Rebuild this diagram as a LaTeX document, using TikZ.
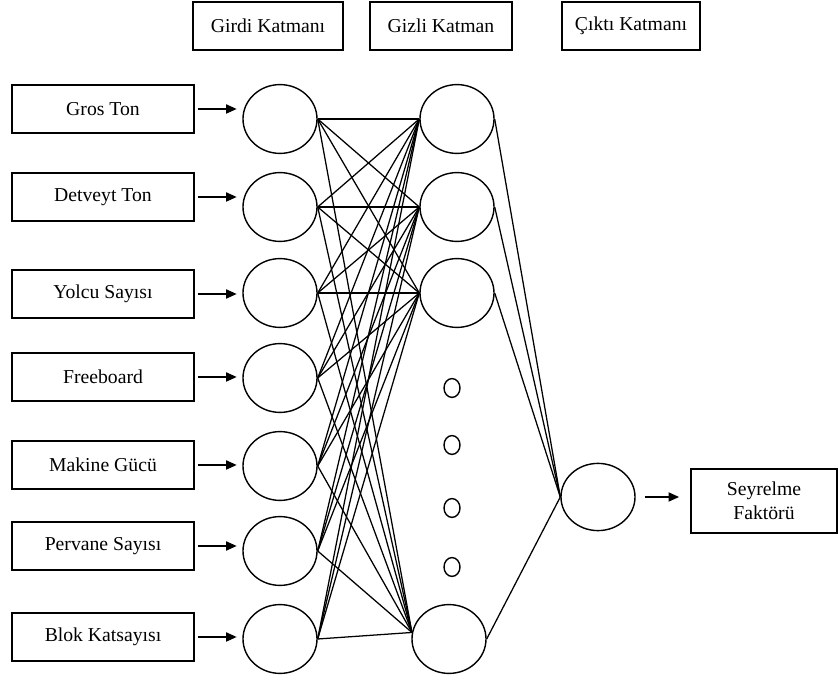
\documentclass[tikz,border=0pt]{standalone}
\usepackage{fontspec}
\setmainfont{Liberation Serif}
\usetikzlibrary{arrows.meta, positioning, shapes.geometric}

\begin{document}
\begin{tikzpicture}[x=0.025cm, y=-0.025cm,
  box/.style={draw, line width=1.3pt, minimum height=1.22cm, inner sep=0pt, align=center, font=\fontsize{14}{17}\selectfont},
  neuron/.style={draw, ellipse, line width=1pt, minimum width=1.85cm, minimum height=1.72cm, inner sep=0pt},
  dotn/.style={draw, ellipse, line width=1pt, minimum width=0.4cm, minimum height=0.47cm, inner sep=0pt},
  link/.style={line width=0.9pt},
  feed/.style={-{Triangle[length=7.5pt, width=6.5pt]}, line width=1pt, shorten <=2pt, shorten >=4pt}]
  \useasboundingbox (0,0) rectangle (838,681);

  % Layer titles
  \node[box, minimum width=3.75cm, minimum height=1.2cm] (tin) at (268,26) {Girdi Katmanı};
  \node[box, minimum width=3.55cm, minimum height=1.2cm] (thid) at (441,26) {Gizli Katman};
  \node[box, minimum width=3.43cm, minimum height=1.2cm] (tout) at (631,26) {Çıktı Katmanı};

  % Inputs
  \foreach \i/\yb/\yc/\txt in {1/109/119/Gros Ton, 2/197/207/Detveyt Ton, 3/294/293/Yolcu Sayısı,
      4/377/378/Freeboard, 5/465/466/Makine Gücü, 6/546/551/Pervane Sayısı, 7/637/639/Blok Katsayısı} {
    \node[box, minimum width=4.55cm] (b\i) at (103,\yb) {\txt};
    \node[neuron] (x\i) at (280,\yc) {};
    \draw[feed] (b\i.east) -- (b\i.east -| x\i.west);
  }

  % Hidden layer
  \node[neuron] (h1) at (457,119) {};
  \node[neuron] (h2) at (457,207) {};
  \node[neuron] (h3) at (457,293) {};
  \node[neuron] (h4) at (449,639) {};
  \foreach \i/\yy in {1/388, 2/445, 3/508, 4/567}
    \node[dotn] (d\i) at (452,\yy) {};

  % Output
  \node[neuron, minimum height=1.68cm] (y) at (598,497) {};
  \node[box, minimum width=3.65cm, minimum height=1.6cm] (res) at (764,501) {Seyrelme\\Faktörü};
  \draw[feed, shorten <=6.4pt, shorten >=7.8pt] (y.east) -- (y.east -| res.west);

  % Weights
  \foreach \i in {1,...,7} {
    \foreach \j in {1,2,3}
      \draw[link] (x\i.east) -- (h\j.west);
    \draw[link] (x\i.east) -- (h4.170);
  }
  \foreach \j in {1,...,4}
    \draw[link] (h\j.east) -- (y.west);
\end{tikzpicture}
\end{document}
